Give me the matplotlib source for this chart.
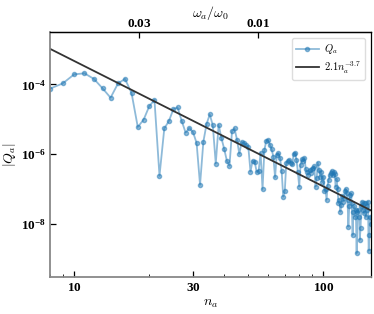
import numpy as np
import matplotlib
matplotlib.use("Agg")
import matplotlib.pyplot as plt
from matplotlib.ticker import NullLocator, LogLocator

plt.rcParams["mathtext.fontset"] = "cm"
plt.rcParams["mathtext.rm"] = "Liberation Serif:bold"
plt.rcParams["mathtext.bf"] = "Liberation Serif:bold"
plt.rcParams["mathtext.it"] = "Liberation Serif:italic:bold"

# mode number n_a (integers) and log10 |Q_a|
n_a = np.arange(8, 156)
log_q = [
    -4.12, -3.97, -3.71, -3.68, -3.84, -4.11, -4.38, -3.97, -3.84, -4.25,   # 8-17
    -5.22, -5.01, -4.63, -4.44, -6.62, -5.26, -5.05, -4.71, -4.66, -5.04,   # 18-27
    -5.38, -5.25, -5.37, -5.68, -6.88, -5.64, -5.13, -4.86, -5.17, -6.27,   # 28-37
    -5.16, -5.54, -5.85, -6.19, -6.33, -5.34, -5.26, -5.58, -5.99, -5.65,   # 38-47
    -5.68, -5.74, -5.80, -6.50, -6.19, -6.21, -6.51, -6.47, -5.97, -7.00,   # 48-57
    -5.88, -5.61, -5.59, -5.73, -5.86, -6.07, -6.66, -6.02, -5.97, -6.11,   # 58-67
    -6.47, -7.22, -7.07, -6.24, -6.20, -6.18, -6.25, -6.29, -6.00, -5.97,   # 68-77
    -6.16, -6.50, -6.93, -6.30, -6.14, -6.20, -6.11, -6.43, -6.50, -6.59,   # 78-87
    -6.45, -6.53, -6.43, -6.40, -6.35, -6.93, -6.69, -6.24, -6.45, -6.64,   # 88-97
    -6.50, -6.80, -6.64, -7.07, -7.00, -7.31, -6.90, -6.74, -6.60, -6.53,   # 98-107
    -6.47, -6.60, -6.50, -6.56, -6.93, -6.70, -7.00, -7.41, -7.30, -7.65,   # 108-117
    -7.45, -7.20, -7.36, -7.25, -7.07, -7.00, -7.12, -7.30, -8.08, -7.50,   # 118-127
    -7.17, -7.12, -7.40, -8.32, -7.65, -7.50, -7.79, -7.60, -8.84, -7.65,   # 128-137
    -7.60, -7.79, -8.46, -8.12, -7.50, -7.36, -7.60, -7.41, -7.70, -7.41,   # 138-147
    -7.80, -7.60, -7.50, -7.36, -8.77, -8.32, -7.79, -8.00,                 # 148-155
]
q_a = 10.0 ** np.array(log_q)

# power-law guide as drawn
fit_amp = 1.88
fit_pow = -3.6
fit_label = r"$2.1n_a^{-3.7}$"

# omega_a / omega_0 = w_scale / n_a
w_scale = 0.548

xticks = [10, 30, 100]
yticks = [1e-8, 1e-6, 1e-4]
top_ticks = [0.03, 0.01]

fig = plt.figure(figsize=(3.74, 3.14), dpi=100)
ax = fig.add_axes([0.1337, 0.1178, 0.8596, 0.7803])

ax.plot(n_a, q_a, "o-", color="C0", alpha=0.5, lw=1.3, ms=3.0, label=r"$Q_a$")
n_line = np.array([8.0, 156.0])
ax.plot(n_line, fit_amp * n_line ** fit_pow, color="#333333", lw=1.3, label=fit_label)

ax.set_xscale("log")
ax.set_yscale("log")
ax.set_xlim(8, 156)
ax.set_ylim(3e-10, 3.2e-3)

ax.set_xticks(xticks, labels=[r"$\mathbf{%d}$" % t for t in xticks])
ax.xaxis.set_minor_locator(LogLocator(base=10, subs=np.arange(2, 10)))
ax.xaxis.set_minor_formatter(plt.NullFormatter())
ax.set_yticks(yticks, labels=[r"$\mathbf{10^{%d}}$" % int(np.log10(t)) for t in yticks])
ax.yaxis.set_minor_locator(NullLocator())

ax.tick_params(which="both", direction="in", top=False, right=False)
ax.tick_params(which="major", length=4, width=0.9, labelsize=9.5, pad=3)
ax.tick_params(which="minor", length=2, width=0.6)
for lab in ax.get_xticklabels() + ax.get_yticklabels():
    lab.set_math_fontfamily("custom")

for side in ["left", "bottom"]:
    ax.spines[side].set_color("#888888")
    ax.spines[side].set_linewidth(1.3)
for side in ["top", "right"]:
    ax.spines[side].set_color("black")
    ax.spines[side].set_linewidth(0.9)

ax.set_xlabel(r"$n_a$", fontsize=10, labelpad=1)
ax.set_ylabel(r"$|Q_a|$", fontsize=10, labelpad=2)

secax = ax.secondary_xaxis("top", functions=(lambda n: w_scale / n, lambda w: w_scale / w))
secax.set_xticks(top_ticks, labels=[r"$\mathbf{%.2f}$" % t for t in top_ticks])
secax.xaxis.set_minor_locator(NullLocator())
secax.tick_params(which="major", direction="in", length=4, width=0.9, labelsize=9.5, pad=1.5)
secax.spines["top"].set_linewidth(0.9)
for lab in secax.get_xticklabels():
    lab.set_math_fontfamily("custom")
secax.set_xlabel(r"$\omega_a/\omega_0$", fontsize=10, labelpad=0)

ax.legend(loc="upper right", fontsize=7.5, handlelength=2.2, borderpad=0.4,
          labelspacing=0.3, handletextpad=0.5, framealpha=1, edgecolor="#dddddd",
          borderaxespad=0.6)

fig.savefig("out.png", dpi=100)
